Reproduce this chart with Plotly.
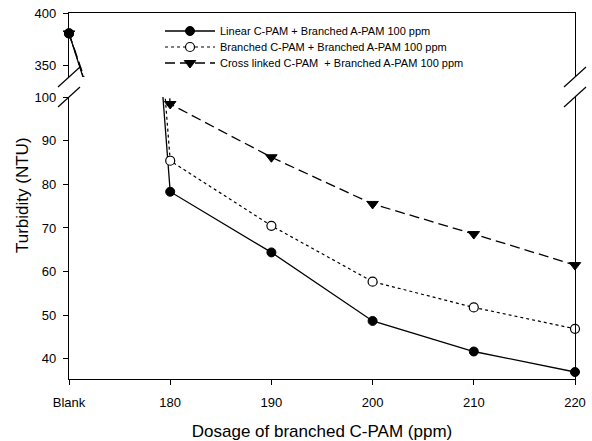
import plotly.graph_objects as go

# ---- data ----
x_labels = ["Blank", "180", "190", "200", "210", "220"]
x_vals = [170, 180, 190, 200, 210, 220]
linear = [380.5, 78.3, 64.4, 48.7, 41.7, 37.0]
branched = [380.5, 85.4, 70.5, 57.7, 51.8, 46.9]
cross = [380.5, 98.4, 86.2, 75.5, 68.6, 61.5]
names = ["Linear C-PAM + Branched A-PAM 100 ppm",
         "Branched C-PAM + Branched A-PAM 100 ppm",
         "Cross linked C-PAM  + Branched A-PAM 100 ppm"]
top_ticks = [350, 400]
bottom_ticks = [40, 50, 60, 70, 80, 90, 100]

W, H = 592, 441
ML, MR, MT, MB = 69, 17, 13, 62
PW, PH = W - ML - MR, H - MT - MB
FONT = "Liberation Sans, Arial, sans-serif"

def py(p):  # pixel y -> paper
    return (H - MB - p) / PH

def px(p):
    return (p - ML) / PW

styles = [
    dict(y=linear, name=names[0], line=dict(color="black", width=1.3, dash="solid"),
         marker=dict(symbol="circle", size=9, color="black", line=dict(color="black", width=1))),
    dict(y=branched, name=names[1], line=dict(color="black", width=1.2, dash="dot"),
         marker=dict(symbol="circle", size=9, color="white", line=dict(color="black", width=1.2))),
    dict(y=cross, name=names[2], line=dict(color="black", width=1.3, dash="10px,5px"),
         marker=dict(symbol="triangle-down", size=10, color="black", line=dict(color="black", width=1))),
]
legend_ids = ["legend", "legend2", "legend3"]
legend_rows = [31, 47, 63]

fig = go.Figure()
for s, lg in zip(styles, legend_ids):
    fig.add_trace(go.Scatter(x=x_vals, y=s["y"], name=s["name"], mode="lines+markers",
                             line=s["line"], marker=s["marker"], cliponaxis=False,
                             legend=lg, xaxis="x", yaxis="y"))
# top panel: lines (clipped) and the Blank markers
for s in [styles[2], styles[1], styles[0]]:
    fig.add_trace(go.Scatter(x=x_vals, y=s["y"], mode="lines", line=s["line"],
                             showlegend=False, xaxis="x2", yaxis="y2"))
for s in [styles[2], styles[1], styles[0]]:
    fig.add_trace(go.Scatter(x=x_vals[:1], y=s["y"][:1], mode="markers", marker=s["marker"],
                             cliponaxis=False, showlegend=False, xaxis="x2", yaxis="y2"))

bot_top = py(97)
top_bot = py(77)

axis_common = dict(showgrid=False, zeroline=False, linecolor="black", linewidth=1.2,
                   tickcolor="black", tickwidth=1, ticklen=5, ticks="outside",
                   automargin=False)

layout_legends = {}
for lg, row in zip(legend_ids, legend_rows):
    layout_legends[lg] = dict(x=px(160), y=py(row), xanchor="left", yanchor="middle",
                              bgcolor="rgba(0,0,0,0)", borderwidth=0,
                              font=dict(family=FONT, size=11, color="black"),
                              itemwidth=50)

fig.update_layout(
    width=W, height=H,
    margin=dict(l=ML, r=MR, t=MT, b=MB, autoexpand=False),
    plot_bgcolor="white", paper_bgcolor="white",
    font=dict(family=FONT, color="black"),
    xaxis=dict(range=[170, 220], domain=[0, 1], anchor="y", showline=True, mirror=False,
               tickvals=x_vals, ticktext=x_labels, ticklabelstandoff=6,
               tickfont=dict(family=FONT, size=13, color="black"),
               title=dict(text="Dosage of branched C-PAM (ppm)",
                          font=dict(family=FONT, size=17, color="black"), standoff=16),
               **axis_common),
    xaxis2=dict(range=[170, 220], domain=[0, 1], anchor="y2", side="top", showline=True,
                mirror=False, showticklabels=False, ticks="", matches="x", automargin=False,
                showgrid=False, zeroline=False, linecolor="black", linewidth=1.2),
    yaxis=dict(range=[35.4, 100], domain=[0, bot_top], anchor="x", showline=True, mirror=True,
               tickvals=bottom_ticks, ticklabelstandoff=4,
               tickfont=dict(family=FONT, size=13, color="black"), **axis_common),
    yaxis2=dict(range=[338.8, 400], domain=[top_bot, 1], anchor="x2", showline=True, mirror=True,
                tickvals=top_ticks, ticklabelstandoff=4,
                tickfont=dict(family=FONT, size=13, color="black"), **axis_common),
    showlegend=True,
    **layout_legends,
)

fig.add_annotation(text="Turbidity (NTU)", textangle=-90, xref="paper", yref="paper",
                   x=px(22), y=py(195), xanchor="center", yanchor="middle", showarrow=False,
                   font=dict(family=FONT, size=17, color="black"))

# axis break marks
for bx in (69, 575):
    for by in (77, 97):
        fig.add_shape(type="line", xref="paper", yref="paper",
                      x0=px(bx - 11), y0=py(by + 10), x1=px(bx + 11), y1=py(by - 10),
                      line=dict(color="black", width=1.2))

fig.write_html("out.html")
